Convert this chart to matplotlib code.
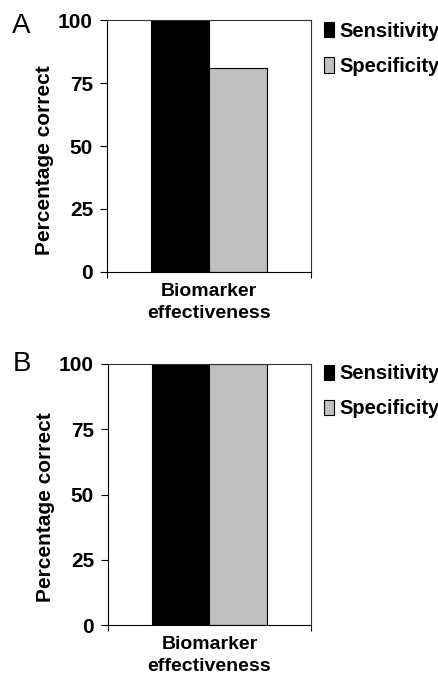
import matplotlib
matplotlib.use('Agg')
import matplotlib.pyplot as plt
from matplotlib.patches import Patch

# values
category = ["Biomarker\neffectiveness"]
series = ["Sensitivity", "Specificity"]
panel_a = [100, 81]
panel_b = [100, 100]
colors = ["#000000", "#c0c0c0"]

plt.rcParams['font.family'] = ['Liberation Sans', 'DejaVu Sans']

fig = plt.figure(figsize=(4.39, 6.81), dpi=100)

def draw(ax, vals, label_y):
    w = 0.284
    for i, (v, c) in enumerate(zip(vals, colors)):
        ax.bar(0 + (i - 0.5) * w, v, width=w, color=c, edgecolor='black', linewidth=0.8)
    ax.set_xlim(-0.5, 0.5)
    ax.set_ylim(0, 100)
    ax.set_yticks([0, 25, 50, 75, 100])
    ax.set_yticklabels(["0", "25", "50", "75", "100"], fontsize=15, fontweight='bold')
    ax.tick_params(axis='y', direction='out', length=5, width=0.8, pad=5)
    ax.set_xticks([0])
    ax.set_xticklabels(category, fontsize=14, fontweight='bold', linespacing=1.35)
    ax.tick_params(axis='x', length=0, pad=8)
    ax.set_xticks([-0.5, 0.5], minor=True)
    ax.tick_params(axis='x', which='minor', direction='out', length=4, width=0.8)
    ax.set_ylabel("Percentage correct", fontsize=15, fontweight='bold')
    ax.yaxis.set_label_coords(-0.26, label_y)
    for s in ax.spines.values():
        s.set_linewidth(0.8)
    for s in ['top', 'right']:
        ax.spines[s].set_color('#333333')

ax1 = fig.add_axes([0.2437, 0.6006, 0.4647, 0.370])
draw(ax1, panel_a, 0.444)
ax2 = fig.add_axes([0.246, 0.0822, 0.4624, 0.3833])
draw(ax2, panel_b, 0.452)

handles = [Patch(facecolor=c, edgecolor='black', linewidth=0.8) for c in colors]
for top in [0.968, 0.465]:
    fig.legend(handles, series, loc='upper left', bbox_to_anchor=(0.738, top),
               frameon=False, prop={'weight': 'bold', 'size': 14.5},
               borderpad=0, borderaxespad=0,
               handlelength=0.5, handleheight=0.8, handletextpad=0.25,
               labelspacing=0.8)

fig.text(0.028, 0.962, "A", fontsize=20, ha='left', va='center')
fig.text(0.028, 0.466, "B", fontsize=20, ha='left', va='center')

fig.savefig("out.png", dpi=100)
